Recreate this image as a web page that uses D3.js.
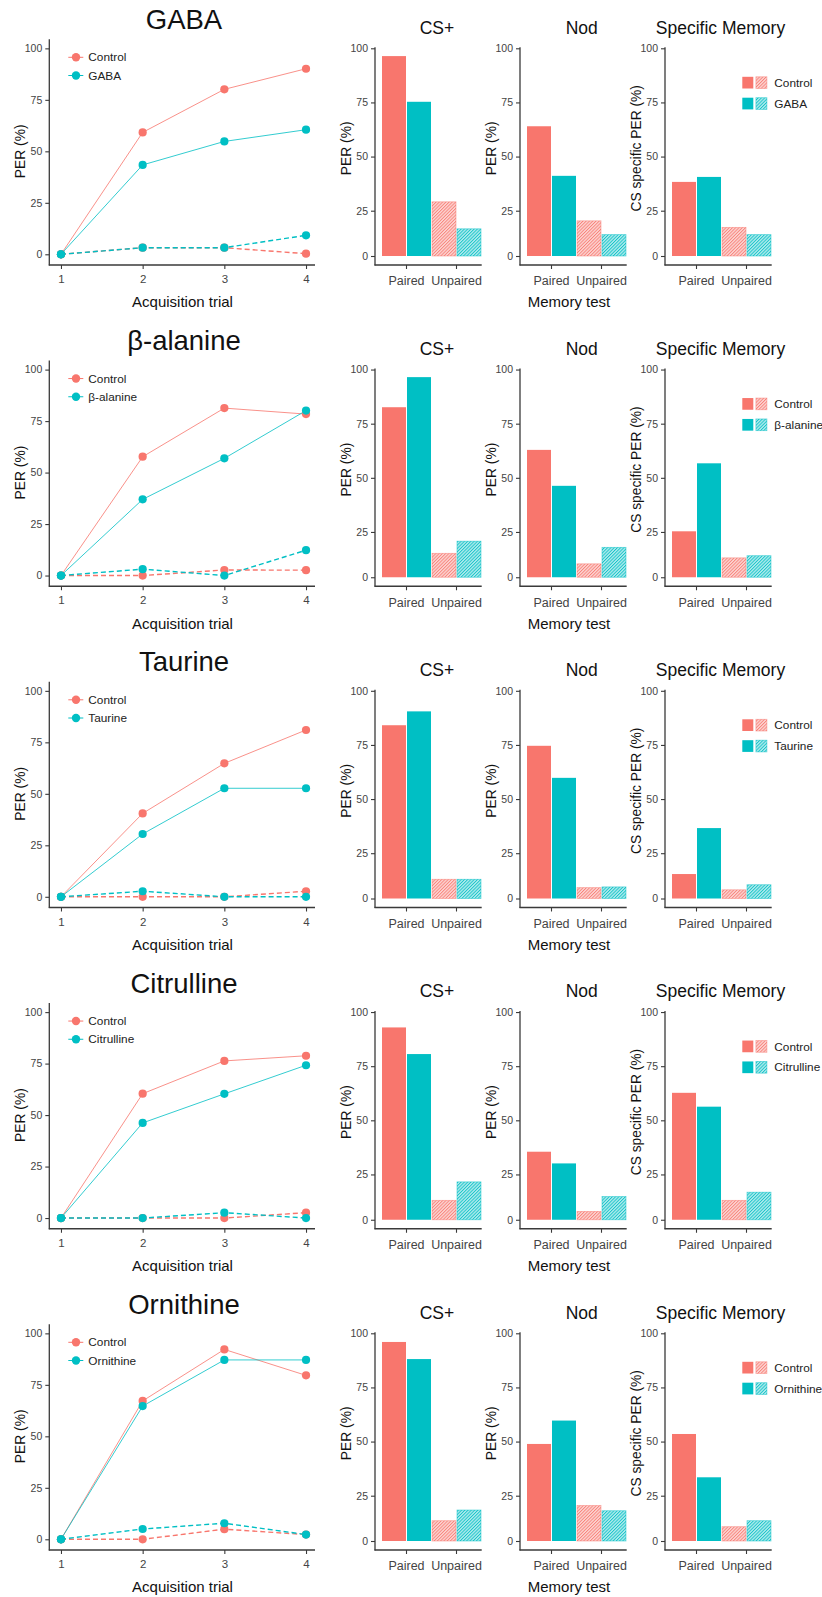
<!DOCTYPE html>
<html><head><meta charset="utf-8">
<script src="https://cdn.jsdelivr.net/npm/d3@7"></script>
<style>
body{margin:0;background:#fff}
text{font-family:"Liberation Sans",Arial,sans-serif}
</style>
</head><body>
<svg id="chart" width="822" height="1597"></svg>
<script>
// ---------- data ----------
const rowNames = ["GABA", "β-alanine", "Taurine", "Citrulline", "Ornithine"];
const trials = [1, 2, 3, 4];
const yTicks = [0, 25, 50, 75, 100];
const groups = ["Paired", "Unpaired"];
const barTitles = ["CS+", "Nod", "Specific Memory"];
const barYTitles = ["PER (%)", "PER (%)", "CS specific PER (%)"];

// acquisition curves (PER %), one array per row, values for trials 1..4
const acqControlPaired   = [[0,59.2,80.1,90.1],[0,57.7,81.3,78.4],[0,40.5,64.8,81.0],[0,60.4,76.3,78.8],[0,67.2,92.2,79.6]];
const acqTreatPaired     = [[0,43.4,54.8,60.5],[0,37.0,56.9,80.1],[0,30.5,52.7,52.7],[0,46.2,60.3,74.2],[0,64.7,87.1,87.1]];
const acqControlUnpaired = [[0,3.2,3.2,0.3],[0,0,2.7,2.6],[0,0,0,2.7],[0,0,0,2.6],[0,0,4.9,2.3]];
const acqTreatUnpaired   = [[0,3.2,3.2,9.2],[0,3.1,0,12.3],[0,2.7,0,0],[0,0,2.6,0],[0,5.0,7.8,2.3]];

// memory tests [Paired, Unpaired]
const csControl  = [[96.4,29.1],[82.6,13.2],[84.1,10.6],[92.9,10.7],[96.0,11.2]];
const csTreat    = [[75.3,15.0],[96.5,19.9],[90.5,10.6],[80.6,20.9],[88.1,17.1]];
const nodControl = [[64.0,19.4],[62.9,7.4],[74.6,6.0],[35.5,4.6],[48.9,19.6]];
const nodTreat   = [[41.1,11.8],[46.3,16.5],[59.8,6.4],[30.1,12.8],[59.7,16.7]];
const smControl  = [[38.3,15.8],[25.3,10.7],[13.5,4.8],[62.7,10.7],[53.5,7.9]];
const smTreat    = [[40.6,11.8],[56.7,11.9],[36.6,7.6],[56.3,15.2],[33.5,11.2]];

// ---------- drawing ----------
const RED = "#F8766D", TEAL = "#00BFC4";
const AX = "#3a3a3a", TICKTXT = "#444";
const svg = d3.select("#chart");
const defs = svg.append("defs");
function hatch(id, c) {
  const s = 2.3;
  const p = defs.append("pattern").attr("id", id).attr("patternUnits", "userSpaceOnUse")
    .attr("width", s).attr("height", s).attr("patternTransform", "rotate(45)");
  p.append("rect").attr("width", s).attr("height", s).attr("fill", c).attr("fill-opacity", 0.3);
  p.append("line").attr("x1", 0.5).attr("y1", 0).attr("x2", 0.5).attr("y2", s)
    .attr("stroke", c).attr("stroke-width", 0.8);
}
hatch("hR", RED); hatch("hT", TEAL);

function styleAxis(sel, fs) {
  sel.select(".domain").remove();
  sel.selectAll(".tick line").attr("stroke", AX).attr("stroke-width", 1.1);
  sel.selectAll(".tick text").attr("fill", TICKTXT).style("font-size", fs + "px")
    .style("font-family", "'Liberation Sans',Arial,sans-serif");
}

const ctrlSets = [csControl, nodControl, smControl];
const trtSets = [csTreat, nodTreat, smTreat];
const panelX = [375, 520, 665];
const titleX = [437, 581.7, 720.5];
const yTitleX = [346, 491, 636];

rowNames.forEach((name, r) => {
  const y100 = 48.3 + 321.25 * r;
  const g = svg.append("g");

  // ===== acquisition line chart =====
  const axY = y100 + 216.7, axTop = y100 - 9, axL = 49.3, axR = 315;
  const lx = d3.scaleLinear().domain([0.857, 4.11]).range([axL, axR]);
  const ly = d3.scaleLinear().domain([-5.2, 104.4]).range([axY, axTop]);

  const ya = g.append("g").attr("transform", `translate(${axL},0)`)
    .call(d3.axisLeft(ly).tickValues(yTicks).tickSize(4).tickPadding(3));
  styleAxis(ya, 10.5);
  const xa = g.append("g").attr("transform", `translate(0,${axY})`)
    .call(d3.axisBottom(lx).tickValues(trials).tickFormat(d3.format("d")).tickSize(4).tickPadding(6));
  styleAxis(xa, 11.5);
  g.append("line").attr("x1", axL).attr("x2", axL).attr("y1", axTop).attr("y2", axY + 0.5)
    .attr("stroke", AX).attr("stroke-width", 1.3);
  g.append("line").attr("x1", axL - 0.5).attr("x2", axR).attr("y1", axY).attr("y2", axY)
    .attr("stroke", AX).attr("stroke-width", 1.3);

  const line = d3.line().x((d, i) => lx(trials[i])).y(d => ly(d));
  const series = [
    {v: acqControlUnpaired[r], c: RED, dash: true},
    {v: acqControlPaired[r], c: RED, dash: false},
    {v: acqTreatUnpaired[r], c: TEAL, dash: true},
    {v: acqTreatPaired[r], c: TEAL, dash: false}
  ];
  series.forEach(s => {
    g.append("path").datum(s.v).attr("d", line).attr("fill", "none")
      .attr("stroke", s.c)
      .attr("stroke-width", s.dash ? 1.4 : 1)
      .attr("stroke-opacity", s.dash ? 1 : 0.8)
      .attr("stroke-dasharray", s.dash ? "5,3" : null);
  });
  series.forEach(s => {
    g.selectAll(null).data(s.v).enter().append("circle")
      .attr("cx", (d, i) => lx(trials[i])).attr("cy", d => ly(d)).attr("r", 4.1)
      .attr("fill", s.c);
  });

  // line legend
  [["Control", RED], [name, TEAL]].forEach((it, k) => {
    const ly0 = y100 + 9 + k * 18.2;
    g.append("line").attr("x1", 68.3).attr("x2", 83.3).attr("y1", ly0).attr("y2", ly0)
      .attr("stroke", it[1]).attr("stroke-width", 1);
    g.append("circle").attr("cx", 76).attr("cy", ly0).attr("r", 4.2).attr("fill", it[1]);
    g.append("text").attr("x", 88.3).attr("y", ly0 + 4).text(it[0])
      .style("font-size", "11.8px").attr("fill", "#222");
  });

  // titles
  g.append("text").attr("x", 184).attr("y", y100 - 19.5).attr("text-anchor", "middle")
    .style("font-size", "27.5px").attr("fill", "#111").text(name);
  g.append("text").attr("x", 182.5).attr("y", y100 + 259).attr("text-anchor", "middle")
    .style("font-size", "15px").attr("fill", "#111").text("Acquisition trial");
  g.append("text").attr("transform", `translate(20,${(ly(0) + ly(100)) / 2}) rotate(-90)`)
    .attr("text-anchor", "middle").attr("dy", "0.35em")
    .style("font-size", "13.8px").attr("fill", "#111").text("PER (%)");

  // ===== bar panels =====
  barTitles.forEach((bt, p) => {
    const x0 = panelX[p];
    const by = d3.scaleLinear().domain([0, 25, 100]).range([y100 + 207.7, y100 + 162.4, y100]);
    const bx = d3.scaleBand().domain(groups).range([x0 + 6.5, x0 + 106.5]);
    const sub = d3.scaleBand().domain(["Control", "Treatment"]).range([0, bx.bandwidth()]);

    const pa = g.append("g").attr("transform", `translate(${x0},0)`)
      .call(d3.axisLeft(by).tickValues(yTicks).tickSize(4).tickPadding(3));
    styleAxis(pa, 10.5);
    const pb = g.append("g").attr("transform", `translate(0,${axY})`)
      .call(d3.axisBottom(bx).tickSize(4).tickPadding(7.5));
    styleAxis(pb, 12.5);

    groups.forEach((gn, gi) => {
      [ctrlSets[p], trtSets[p]].forEach((arr, k) => {
        const v = arr[r][gi];
        const c = k === 0 ? RED : TEAL;
        const xb = bx(gn) + sub(k === 0 ? "Control" : "Treatment");
        const rect = g.append("rect")
          .attr("x", xb + 0.5).attr("width", sub.bandwidth() - 1)
          .attr("y", by(v)).attr("height", by(0) - by(v));
        if (gi === 0) {
          rect.attr("fill", c);
        } else {
          rect.attr("fill", k === 0 ? "url(#hR)" : "url(#hT)")
            .attr("stroke", c).attr("stroke-opacity", 0.55).attr("stroke-width", 0.8);
        }
      });
    });

    g.append("line").attr("x1", x0).attr("x2", x0).attr("y1", y100 - 1).attr("y2", axY + 0.5)
      .attr("stroke", AX).attr("stroke-width", 1.3);
    g.append("line").attr("x1", x0 - 0.5).attr("x2", x0 + 106.7).attr("y1", axY).attr("y2", axY)
      .attr("stroke", AX).attr("stroke-width", 1.3);

    g.append("text").attr("x", titleX[p]).attr("y", y100 - 14.7).attr("text-anchor", "middle")
      .style("font-size", "17.5px").attr("fill", "#111").text(bt);
    g.append("text").attr("transform", `translate(${yTitleX[p]},${y100 + 100}) rotate(-90)`)
      .attr("text-anchor", "middle").attr("dy", "0.35em")
      .style("font-size", "13.8px").attr("fill", "#111").text(barYTitles[p]);
  });

  g.append("text").attr("x", 569).attr("y", y100 + 259).attr("text-anchor", "middle")
    .style("font-size", "15px").attr("fill", "#111").text("Memory test");

  // bar legend
  [["Control", RED, "url(#hR)"], [name, TEAL, "url(#hT)"]].forEach((it, k) => {
    const top = y100 + 28.5 + k * 20.9;
    g.append("rect").attr("x", 742.3).attr("y", top).attr("width", 11).attr("height", 11.7).attr("fill", it[1]);
    g.append("rect").attr("x", 755.9).attr("y", top).attr("width", 11).attr("height", 11.7)
      .attr("fill", it[2]).attr("stroke", it[1]).attr("stroke-opacity", 0.55).attr("stroke-width", 0.8);
    g.append("text").attr("x", 774.3).attr("y", top + 10).text(it[0])
      .style("font-size", "11.8px").attr("fill", "#222");
  });
});
</script>
</body></html>
